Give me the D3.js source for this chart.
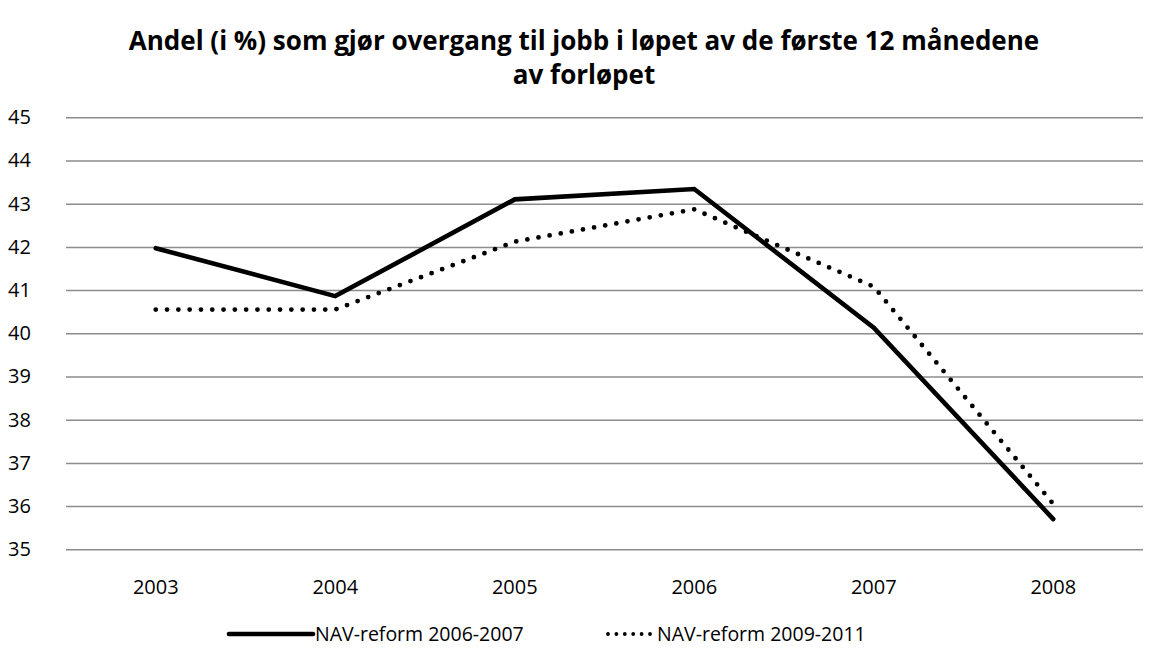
<!DOCTYPE html>
<html><head><meta charset="utf-8">
<script src="https://cdn.jsdelivr.net/npm/d3@7"></script>
<style>body{margin:0;background:#fff}svg{display:block}text{font-family:"Open Sans",sans-serif}</style>
</head><body>
<svg id="c" width="1168" height="651"></svg>
<script>
const categories = ["2003","2004","2005","2006","2007","2008"];
const seriesNames = ["NAV-reform 2006-2007","NAV-reform 2009-2011"];
const reform0607 = [41.97, 40.86, 43.1, 43.34, 40.13, 35.7];
const reform0911 = [40.55, 40.55, 42.12, 42.87, 41.08, 36.05];
const yTicks = [35,36,37,38,39,40,41,42,43,44,45];
const titleLines = ["Andel (i %) som gjør overgang til jobb i løpet av de første 12 månedene","av forløpet"];

const svg = d3.select("#c");
const L = 66, R = 1143, T = 117.3, B = 549.3;
const x = d3.scaleBand().domain(categories).range([L, R]);
const y = d3.scaleLinear().domain([35,45]).range([B, T]);
const FF = "'Open Sans',sans-serif";

svg.append("g").selectAll("text").data(titleLines).join("text")
  .attr("x", 584).attr("y", (d,i)=>50+i*34).attr("text-anchor","middle")
  .attr("font-size",26).attr("font-weight","bold").attr("fill","#000")
  .style("font-family",FF).text(d=>d);

const yAxis = svg.append("g").attr("transform",`translate(${L},0)`)
  .call(d3.axisLeft(y).tickValues(yTicks).tickSize(-(R-L)).tickFormat(d3.format("d")));
yAxis.select(".domain").remove();
yAxis.selectAll(".tick line").attr("stroke","#8c8c8c").attr("stroke-width",1.5);
yAxis.selectAll(".tick text").attr("x",-58).attr("text-anchor","start").attr("font-size",20).attr("fill","#000")
  .style("font-family",FF);

const xAxis = svg.append("g").attr("transform",`translate(0,${B})`)
  .call(d3.axisBottom(x).tickSize(0).tickPadding(31));
xAxis.select(".domain").remove();
xAxis.selectAll(".tick text").attr("font-size",20).attr("fill","#000").attr("dy","0.71em")
  .style("font-family",FF);

const line = d3.line().x((d,i)=>x(categories[i])+x.bandwidth()/2).y(d=>y(d));
svg.append("path").attr("d",line(reform0607)).attr("fill","none").attr("stroke","#000")
  .attr("stroke-width",4.6).attr("stroke-linejoin","miter").attr("stroke-linecap","round");
svg.append("path").attr("d",line(reform0911)).attr("fill","none").attr("stroke","#000")
  .attr("stroke-width",4.8).attr("stroke-dasharray","0,11.3").attr("stroke-linecap","round");

// legend
const lg = svg.append("g");
lg.append("line").attr("x1",229).attr("x2",313).attr("y1",634).attr("y2",634)
  .attr("stroke","#000").attr("stroke-width",4.6).attr("stroke-linecap","round");
lg.append("text").attr("x",315).attr("y",641).attr("font-size",19.5).style("font-family",FF).text(seriesNames[0]);
lg.append("line").attr("x1",608).attr("x2",650).attr("y1",634).attr("y2",634)
  .attr("stroke","#000").attr("stroke-width",3.8).attr("stroke-dasharray","0,8.4").attr("stroke-linecap","round");
lg.append("text").attr("x",657).attr("y",641).attr("font-size",19.5).style("font-family",FF).text(seriesNames[1]);
</script>
</body></html>
